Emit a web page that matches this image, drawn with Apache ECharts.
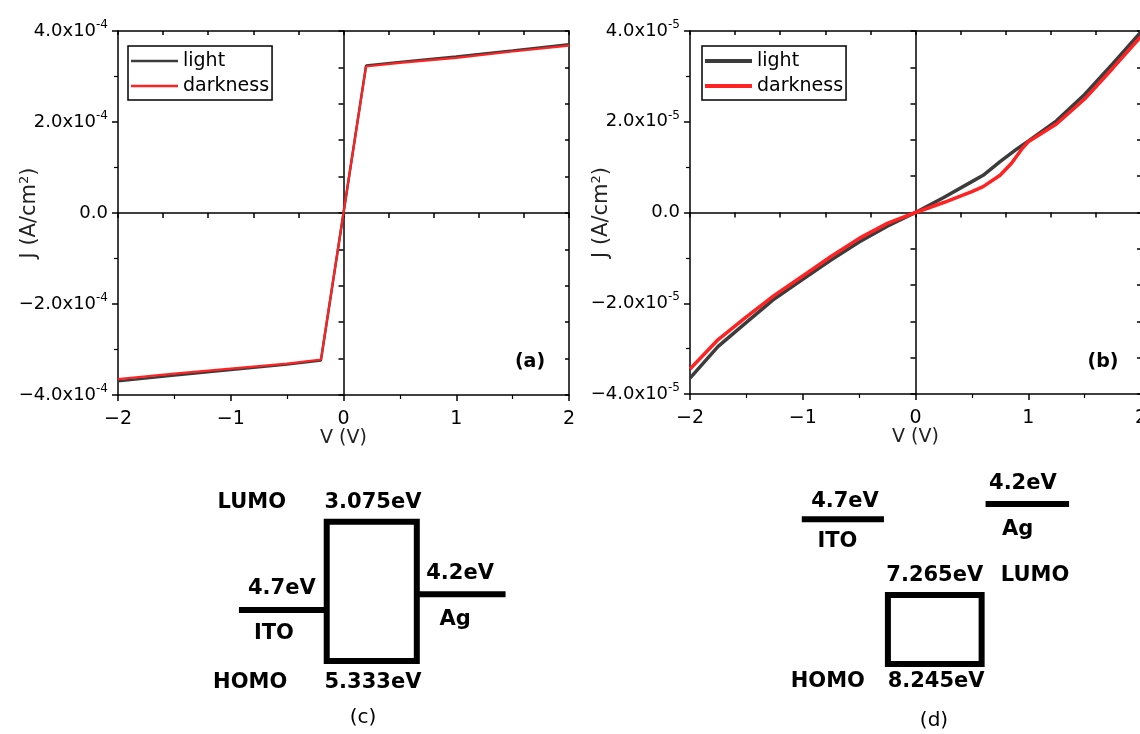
<!DOCTYPE html>
<html>
<head>
<meta charset="utf-8">
<title>J-V curves and energy level diagrams</title>
<script src="https://cdn.jsdelivr.net/npm/echarts/dist/echarts.min.js"></script>
<style>
  html, body { margin: 0; padding: 0; background: #fff; }
  #chart { width: 1140px; height: 734px; }
</style>
</head>
<body>
<div id="chart"></div>
<script>
// ---- (a) J-V, A/cm2 ----
const Va = [-2, -1.5, -1, -0.5, -0.2, 0, 0.2, 0.5, 1, 1.5, 2];
const JaLight = [-3.70e-4, -3.57e-4, -3.45e-4, -3.33e-4, -3.24e-4, 0, 3.24e-4, 3.32e-4, 3.44e-4, 3.57e-4, 3.71e-4];
const JaDark = [-3.65e-4, -3.53e-4, -3.42e-4, -3.31e-4, -3.22e-4, 0, 3.22e-4, 3.30e-4, 3.41e-4, 3.55e-4, 3.68e-4];

// ---- (b) J-V, A/cm2 ----
const VbLight = [-2, -1.75, -1.5, -1.25, -1, -0.75, -0.5, -0.25, 0, 0.25, 0.5, 0.6, 0.75, 0.9, 1, 1.25, 1.5, 1.75, 2];
const JbLight = [-3.65e-5, -2.95e-5, -2.42e-5, -1.90e-5, -1.47e-5, -1.05e-5, -0.65e-5, -0.30e-5, 0,
  0.33e-5, 0.68e-5, 0.82e-5, 1.12e-5, 1.40e-5, 1.57e-5, 2.02e-5, 2.60e-5, 3.28e-5, 3.98e-5];
const VbDark = [-2, -1.75, -1.5, -1.25, -1, -0.75, -0.5, -0.25, 0, 0.25, 0.5, 0.6, 0.75, 0.85, 0.95, 1, 1.25, 1.5, 1.75, 2];
const JbDark = [-3.45e-5, -2.80e-5, -2.30e-5, -1.82e-5, -1.40e-5, -0.97e-5, -0.57e-5, -0.24e-5, 0,
  0.22e-5, 0.46e-5, 0.57e-5, 0.82e-5, 1.08e-5, 1.42e-5, 1.56e-5, 1.95e-5, 2.50e-5, 3.18e-5, 3.88e-5];

const seriesNames = ['light', 'darkness'];

// ---- (c) / (d) energy diagrams, schematic heights as drawn (0 = top) ----
// level lines: [name, xStart, xEnd, y]
const cLevels = [['ITO', 1.18, 3.84, 5.42], ['Ag', 6.57, 9.26, 4.76]];
const cBox = [3.84, 6.57, 1.74, 7.54]; // x1, x2, LUMO, HOMO
const cTexts = [
  ['LUMO', 1.57, 0.96], ['3.075eV', 5.24, 0.96],
  ['4.7eV', 2.48, 4.54], ['ITO', 2.24, 6.38],
  ['4.2eV', 7.88, 3.88], ['Ag', 7.73, 5.83],
  ['HOMO', 1.52, 8.46], ['5.333eV', 5.24, 8.46]
];
const dLevels = [['ITO', 0.66, 3.15, 1.64], ['Ag', 6.23, 8.76, 1.0]];
const dBox = [3.27, 6.11, 4.79, 7.67];
const dTexts = [
  ['4.7eV', 1.97, 0.90], ['ITO', 1.74, 2.57],
  ['4.2eV', 7.36, 0.13], ['Ag', 7.20, 2.08],
  ['7.265eV', 4.69, 4.0], ['LUMO', 7.73, 4.0],
  ['HOMO', 1.45, 8.40], ['8.245eV', 4.73, 8.40]
];

const FONT = 'DejaVu Sans';
const BLACK = '#000';
const axisLine = { color: BLACK, width: 1.5 };

function sciLabel(exp) {
  return function (v) {
    if (Math.abs(v) < 1e-12) return '{m|0.0}';
    const m = (v / Math.pow(10, exp)).toFixed(1).replace('-', '\u2212');
    return '{m|' + m + 'x10}{e|' + exp + '}';
  };
}

function plotAxes(g, yMax, yExp) {
  const xs = [
    { // bottom frame
      gridIndex: g, type: 'value', position: 'bottom', min: -2, max: 2, interval: 1,
      axisLine: { onZero: false, lineStyle: axisLine },
      axisTick: { inside: false, length: 6, lineStyle: axisLine },
      minorTick: { show: true, splitNumber: 2, length: 4, lineStyle: { color: BLACK, width: 1.2 } },
      splitLine: { show: false }, minorSplitLine: { show: false },
      axisLabel: {
        margin: 15, fontSize: 19, fontFamily: FONT, color: BLACK,
        formatter: v => String(v).replace('-', '\u2212')
      },
      name: 'V (V)', nameLocation: 'middle', nameGap: 34, nameMoveOverlap: false,
      nameTextStyle: { fontSize: 19, fontFamily: FONT, color: '#222' }
    },
    { // top frame
      gridIndex: g, type: 'value', position: 'top', min: -2, max: 2, interval: 0.4,
      axisLine: { onZero: false, lineStyle: axisLine },
      axisTick: { inside: true, length: 4, lineStyle: axisLine },
      axisLabel: { show: false }, splitLine: { show: false }
    },
    { // zero line
      gridIndex: g, type: 'value', position: 'bottom', min: -2, max: 2, interval: 0.4,
      axisLine: { onZero: true, lineStyle: axisLine },
      axisTick: { inside: false, length: 5, lineStyle: axisLine },
      axisLabel: { show: false }, splitLine: { show: false }
    }
  ];
  const ys = [
    {
      gridIndex: g, type: 'value', position: 'left', min: -yMax, max: yMax, interval: yMax / 2,
      axisLine: { onZero: false, lineStyle: axisLine },
      axisTick: { inside: false, length: 6, lineStyle: axisLine },
      minorTick: { show: true, splitNumber: 2, length: 4, lineStyle: { color: BLACK, width: 1.2 } },
      splitLine: { show: false }, minorSplitLine: { show: false },
      axisLabel: {
        margin: 10, formatter: sciLabel(yExp),
        rich: {
          m: { fontSize: 18, fontFamily: FONT, color: BLACK, lineHeight: 24 },
          e: { fontSize: 12, fontFamily: FONT, color: BLACK, lineHeight: 24, verticalAlign: 'top' }
        }
      },
      name: '{n|J (A/cm}{s|2}{n|)}', nameLocation: 'middle', nameGap: 76, nameMoveOverlap: false,
      nameTextStyle: {
        rich: {
          n: { fontSize: 21, fontFamily: FONT, color: '#222', lineHeight: 24 },
          s: { fontSize: 13, fontFamily: FONT, color: '#222', lineHeight: 24, verticalAlign: 'top' }
        }
      }
    },
    {
      gridIndex: g, type: 'value', position: 'right', min: -yMax, max: yMax, interval: yMax / 5,
      axisLine: { onZero: false, lineStyle: axisLine },
      axisTick: { inside: true, length: 4, lineStyle: axisLine },
      axisLabel: { show: false }, splitLine: { show: false }
    },
    {
      gridIndex: g, type: 'value', position: 'left', min: -yMax, max: yMax, interval: yMax / 5,
      axisLine: { onZero: true, lineStyle: axisLine },
      axisTick: { inside: false, length: 5, lineStyle: axisLine },
      axisLabel: { show: false }, splitLine: { show: false }
    }
  ];
  return { xs, ys };
}

function diagramAxes(g) {
  return {
    x: { gridIndex: g, type: 'value', min: 0, max: 10, show: false },
    y: { gridIndex: g, type: 'value', min: 0, max: 10.5, inverse: true, show: false }
  };
}

function diagramSeries(axisIdx, levels, box, texts) {
  const out = [];
  levels.forEach(l => {
    out.push({
      type: 'line', name: l[0], xAxisIndex: axisIdx, yAxisIndex: axisIdx, silent: true,
      symbol: 'none', data: [[l[1], l[3]], [l[2], l[3]]],
      lineStyle: { color: BLACK, width: 6, cap: 'butt' }
    });
  });
  out.push({
    type: 'line', xAxisIndex: axisIdx, yAxisIndex: axisIdx, silent: true, symbol: 'none',
    data: [[box[0], box[2]], [box[1], box[2]], [box[1], box[3]], [box[0], box[3]], [box[0], box[2]]],
    lineStyle: { color: BLACK, width: 6, cap: 'square', join: 'miter' }
  });
  out.push({
    type: 'scatter', xAxisIndex: axisIdx, yAxisIndex: axisIdx, silent: true,
    symbolSize: 1, itemStyle: { color: 'rgba(0,0,0,0)', opacity: 1 },
    data: texts.map(t => ({ name: t[0], value: [t[1], t[2]] })),
    label: {
      show: true, position: 'inside', formatter: '{b}',
      fontFamily: FONT, fontWeight: 'bold', fontSize: 21, color: BLACK, opacity: 1
    }
  });
  return out;
}

const pa = plotAxes(0, 4e-4, -4);
const pb = plotAxes(1, 4e-5, -5);
const dc = diagramAxes(2);
const dd = diagramAxes(3);

function jv(v, j) { return v.map((x, i) => [x, j[i]]); }

function legendBox(left, lineW) {
  return {
    data: seriesNames, left: left, top: 46, orient: 'vertical',
    icon: 'rect', itemWidth: 47, itemHeight: lineW,
    borderColor: BLACK, borderWidth: 1.5, padding: [5, 3, 4, 3], itemGap: 5,
    textStyle: { fontSize: 19, fontFamily: FONT, color: BLACK, lineHeight: 20 }
  };
}

const myChart = echarts.init(document.getElementById('chart'));
myChart.setOption({
  backgroundColor: '#fff',
  animation: false,
  grid: [
    { left: 118, top: 31, width: 451, height: 364, containLabel: false, outerBoundsMode: 'none' },
    { left: 690, top: 31, width: 451, height: 363, containLabel: false, outerBoundsMode: 'none' },
    { left: 200, top: 480, width: 330, height: 252, containLabel: false, outerBoundsMode: 'none' },
    { left: 780, top: 480, width: 330, height: 252, containLabel: false, outerBoundsMode: 'none' }
  ],
  xAxis: pa.xs.concat(pb.xs, [dc.x, dd.x]),
  yAxis: pa.ys.concat(pb.ys, [dc.y, dd.y]),
  legend: [legendBox(128, 2.5), legendBox(702, 4)],
  graphic: [
    { type: 'text', x: 530, y: 362, style: { text: '(a)', align: 'center', verticalAlign: 'middle', font: 'bold 19px "DejaVu Sans"', fill: BLACK } },
    { type: 'text', x: 1103, y: 362, style: { text: '(b)', align: 'center', verticalAlign: 'middle', font: 'bold 19px "DejaVu Sans"', fill: BLACK } },
    { type: 'text', x: 363, y: 718, style: { text: '(c)', align: 'center', verticalAlign: 'middle', font: '20px "DejaVu Sans"', fill: BLACK } },
    { type: 'text', x: 934, y: 721, style: { text: '(d)', align: 'center', verticalAlign: 'middle', font: '20px "DejaVu Sans"', fill: BLACK } }
  ],
  series: [
    {
      name: seriesNames[0], type: 'line', xAxisIndex: 0, yAxisIndex: 0, symbol: 'none',
      data: jv(Va, JaLight), lineStyle: { color: '#3c3c3c', width: 2.5 }, itemStyle: { color: '#3c3c3c' }
    },
    {
      name: seriesNames[1], type: 'line', xAxisIndex: 0, yAxisIndex: 0, symbol: 'none',
      data: jv(Va, JaDark), lineStyle: { color: '#ff2222', width: 2.2 }, itemStyle: { color: '#ff2222' }
    },
    {
      name: seriesNames[0], type: 'line', xAxisIndex: 3, yAxisIndex: 3, symbol: 'none',
      data: jv(VbLight, JbLight), lineStyle: { color: '#3c3c3c', width: 3.5 }, itemStyle: { color: '#3c3c3c' }
    },
    {
      name: seriesNames[1], type: 'line', xAxisIndex: 3, yAxisIndex: 3, symbol: 'none',
      data: jv(VbDark, JbDark), lineStyle: { color: '#ff2222', width: 3.5 }, itemStyle: { color: '#ff2222' }
    }
  ].concat(
    diagramSeries(6, cLevels, cBox, cTexts),
    diagramSeries(7, dLevels, dBox, dTexts)
  )
});
window.addEventListener('resize', () => {
  myChart.resize();
});
</script>
</body>
</html>
